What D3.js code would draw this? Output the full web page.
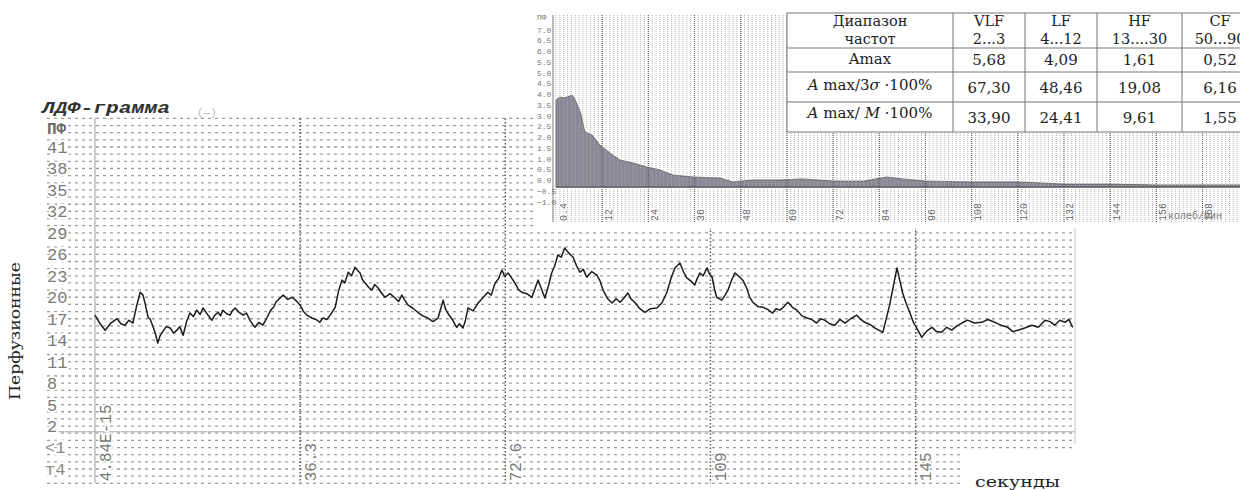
<!DOCTYPE html>
<html>
<head>
<meta charset="utf-8">
<script src="https://cdn.jsdelivr.net/npm/d3@7"></script>
<style>
  html, body { margin: 0; padding: 0; background: #fff; overflow: hidden; }
  svg { display: block; }
</style>
</head>
<body>
<script>
// ---- LDF trace (seconds, perfusion units) ----
const ldfTime = [0,0.9,1.8,2.8,3.9,4.6,5.3,6.0,6.7,7.4,
  8.0,8.5,8.9,9.4,9.8,10.3,10.7,11.1,11.5,11.9,
  12.6,13.3,13.9,14.5,15.0,15.6,16.2,16.8,17.4,18.0,
  18.6,19.1,19.9,20.7,21.2,21.8,22.2,22.6,23.3,23.9,
  24.3,24.8,25.5,26.2,26.8,27.4,27.9,28.3,29.0,29.7,
  30.4,31.1,31.6,32.0,32.6,33.3,34.1,34.9,35.6,36.3,
  36.9,37.5,38.4,39.3,39.8,40.3,41.0,41.6,42.5,43.1,
  43.7,44.2,44.8,45.4,46.0,46.4,46.9,47.3,47.8,48.4,
  49.0,49.5,50.1,50.7,51.3,52.2,53.1,53.7,54.3,54.8,
  55.4,56.2,57.1,58.0,58.9,59.8,60.7,61.6,62.0,62.4,
  63.2,64.0,64.5,65.1,65.5,66.0,66.9,67.8,68.6,69.5,
  70.1,70.8,71.4,72.0,72.5,73.1,73.7,74.3,74.9,75.5,
  76.4,77.3,78.4,79.6,80.2,80.8,81.3,81.9,82.5,83.1,
  83.8,84.6,85.2,85.8,86.4,87.0,87.9,88.8,89.3,89.9,
  90.7,91.5,92.2,92.9,93.6,94.3,94.9,95.5,96.4,97.3,
  98.3,99.4,100.3,101.2,101.9,102.6,103.5,104.1,104.7,105.4,
  106.1,106.5,107.0,107.6,108.3,108.7,109.2,109.6,110.0,110.9,
  111.4,112.0,112.6,113.2,114.1,114.7,115.3,115.8,116.4,117.3,
  118.2,119.0,119.9,120.5,121.2,121.9,122.6,123.4,124.2,125.1,
  126.0,126.8,127.7,128.4,129.1,130.0,130.9,131.8,132.7,133.7,
  134.8,135.5,136.2,137.1,138.0,138.7,139.4,140.6,141.9,142.9,
  143.5,144.2,144.8,145.4,146.3,147.2,148.1,148.9,149.8,150.7,
  151.6,152.5,153.4,154.4,155.6,156.9,158.0,159.2,160.3,161.5,
  162.4,163.3,164.5,165.8,166.9,168.1,169.0,169.8,170.7,171.6,
  172.3,173.0];
const ldfFlux = [17.5,16.3,15.4,16.4,17.0,16.3,16.1,16.8,16.4,18.9,
  20.7,20.3,19.0,17.2,16.9,15.8,14.9,13.6,14.6,15.1,
  15.9,15.7,15.0,15.4,15.9,14.7,16.6,17.8,17.3,18.2,
  17.6,18.5,17.6,16.8,17.5,17.9,17.4,18.2,17.7,17.5,
  18.1,18.5,17.9,17.5,17.8,16.8,16.2,15.8,16.5,16.1,
  17.1,18.2,18.6,19.3,19.8,20.3,19.7,20.0,19.5,18.9,
  18.0,17.5,17.1,16.8,16.5,17.1,16.9,17.5,18.6,20.9,
  22.4,22.0,23.5,23.0,24.2,23.8,23.4,22.5,22.0,21.4,
  21.0,21.8,21.3,20.6,20.0,20.5,19.9,19.4,20.3,19.6,
  18.9,18.5,17.9,17.4,17.1,16.6,17.1,19.6,18.4,17.8,
  16.9,15.8,16.3,15.7,16.6,18.5,18.1,19.2,19.9,20.7,
  20.3,22.0,22.6,23.8,22.9,23.4,22.7,22.0,21.1,20.7,
  20.5,20.0,22.4,19.9,21.5,23.4,24.3,25.9,25.6,26.9,
  26.2,25.6,24.4,23.5,23.9,22.8,23.6,23.1,22.4,21.0,
  19.8,19.2,19.8,19.3,19.9,20.6,19.7,19.3,18.4,17.9,
  18.4,18.5,19.2,20.7,22.6,24.1,24.8,23.6,22.7,22.3,
  21.7,22.5,23.4,23.0,24.1,23.3,22.8,21.2,20.0,19.6,
  20.2,21.0,22.3,23.4,22.8,22.3,21.3,20.1,19.3,18.7,
  18.6,18.3,17.8,18.4,18.2,18.7,19.3,18.6,18.2,17.4,
  17.1,16.9,16.4,17.0,16.8,16.3,16.1,16.9,16.4,17.0,
  17.5,16.9,16.5,16.2,15.7,15.4,15.1,18.9,24.1,20.6,
  19.2,17.8,16.5,15.7,14.4,15.3,15.8,15.2,15.1,15.8,
  15.4,16.0,16.4,16.8,16.4,16.5,16.9,16.5,16.1,15.8,
  15.2,15.4,15.7,16.1,15.8,16.8,16.6,16.1,16.8,16.5,
  16.9,15.8];

const fluxTicks = [41, 38, 35, 32, 29, 26, 23, 20, 17, 14, 11, 8, 5, 2];
const lowerTicks = [-1, -4];
const lowerLabels = ['<1', 'т4'];
const timeTicks = [0, 36.3, 72.6, 108.9, 145.2];
const timeLabels = ['4.84E-15', '36.3', '72.6', '109', '145'];

// ---- amplitude spectrum (inset) ----
const specFreq = [0,1.0,2.1,4.2,5.0,6.4,7.5,9.4,11.4,14,16.6,20,23.6,27,30.4,35.6,42.6,46,51,58,
  64,72,80,86,90,96,108,120,132,144,156,168,178];
const specAmp = [3.72,3.86,3.81,3.95,3.72,3.12,2.23,2.09,1.63,1.26,0.93,0.79,0.60,0.47,0.23,0.14,0.09,-0.09,0,0,
  0.05,-0.05,-0.05,0.14,0.05,-0.05,-0.09,-0.09,-0.19,-0.19,-0.23,-0.23,-0.23];
const specFreqTicks = [0.4, 12, 24, 36, 48, 60, 72, 84, 96, 108, 120, 132, 144, 156, 168];
const specAmpTicks = [7, 6.5, 6, 5.5, 5, 4.5, 4, 3.5, 3, 2.5, 2, 1.5, 1, 0.5, 0, -0.5, -1];

// ---- table ----
const bandNames = ['VLF', 'LF', 'HF', 'CF'];
const bandRanges = ['2...3', '4...12', '13....30', '50...90'];
const amaxVals = [5.68, 4.09, 1.61, 0.52];
const sigmaPct = [67.30, 48.46, 19.08, 6.16];
const meanPct = [33.90, 24.41, 9.61, 1.55];

const W = 1240, H = 490;
const MONO = "'Liberation Mono', 'DejaVu Sans Mono', monospace";
const SERIF = "'DejaVu Serif', 'Liberation Serif', serif";

const svg = d3.select('body').append('svg')
  .attr('width', W).attr('height', H)
  .style('background', '#fff');

// ===== main LDF chart =====
const x = d3.scaleLinear().domain([0, 173.4]).range([95, 1075]);
const y = d3.scaleLinear().domain([45, -6]).range([118.4, 483.3]);

const main = svg.append('g').attr('class', 'ldf');

// dotted rows, one per unit
main.append('g').selectAll('line')
  .data(d3.range(45, -7, -1))
  .join('line')
  .attr('x1', 47)
  .attr('x2', d => (y(d) > 450 ? 962 : 1075))
  .attr('y1', d => y(d)).attr('y2', d => y(d))
  .attr('stroke', '#9c9c9c')
  .attr('stroke-width', 1.3)
  .attr('stroke-dasharray', '3,4');

// solid divider under "2"
main.append('line')
  .attr('x1', 47).attr('x2', 1075)
  .attr('y1', y(1.2)).attr('y2', y(1.2))
  .attr('stroke', '#a8a8a8');

// left and right borders
main.append('line')
  .attr('x1', x(0)).attr('x2', x(0))
  .attr('y1', y(45)).attr('y2', y(-6))
  .attr('stroke', '#999');
main.append('line')
  .attr('x1', 1075).attr('x2', 1075)
  .attr('y1', 226).attr('y2', y(-0.5))
  .attr('stroke', '#c4c4c4');

// major time lines
main.append('g').selectAll('line')
  .data(timeTicks.slice(1))
  .join('line')
  .attr('x1', d => x(d)).attr('x2', d => x(d))
  .attr('y1', y(45)).attr('y2', y(-6))
  .attr('stroke', '#555')
  .attr('stroke-width', 1.4)
  .attr('stroke-dasharray', '1.5,2');

// y axis
const yAxis = d3.axisLeft(y).tickValues(fluxTicks).tickSize(0).tickFormat(d3.format('d'));
main.append('g')
  .attr('transform', `translate(${x(0)},0)`)
  .call(yAxis)
  .call(g => g.select('.domain').remove())
  .selectAll('text')
  .attr('x', 47 - x(0))
  .attr('text-anchor', 'start')
  .attr('font-family', MONO)
  .attr('font-size', 17)
  .attr('fill', '#7a7a7a')
  .attr('stroke', '#fff').attr('stroke-width', 4)
  .attr('paint-order', 'stroke');

main.append('g').selectAll('text')
  .data(lowerTicks)
  .join('text')
  .attr('x', 45).attr('y', d => y(d)).attr('dy', '0.35em')
  .attr('font-family', MONO).attr('font-size', 17)
  .attr('fill', '#8a8a8a')
  .attr('stroke', '#fff').attr('stroke-width', 4).attr('paint-order', 'stroke')
  .text((d, i) => lowerLabels[i]);

main.append('text')
  .attr('x', 47).attr('y', y(43.6)).attr('dy', '0.35em')
  .attr('font-family', MONO).attr('font-size', 16).attr('font-weight', 'bold')
  .attr('fill', '#6a6a6a')
  .attr('stroke', '#fff').attr('stroke-width', 4).attr('paint-order', 'stroke')
  .text('ПФ');

// x axis labels, rotated
const xAxis = d3.axisBottom(x).tickValues(timeTicks).tickSize(0)
  .tickFormat((d, i) => timeLabels[i]);
main.append('g')
  .attr('transform', `translate(0,${y(-6)})`)
  .call(xAxis)
  .call(g => g.select('.domain').remove())
  .selectAll('text')
  .attr('transform', 'rotate(-90)')
  .attr('text-anchor', 'start')
  .attr('x', 2).attr('y', 15).attr('dy', null)
  .attr('font-family', MONO)
  .attr('font-size', 16)
  .attr('fill', '#777')
  .attr('stroke', '#fff').attr('stroke-width', 3).attr('paint-order', 'stroke');

// the trace
const trace = d3.line()
  .x(d => x(d[0]))
  .y(d => y(d[1]));
main.append('path')
  .datum(d3.zip(ldfTime, ldfFlux))
  .attr('d', trace)
  .attr('fill', 'none')
  .attr('stroke', '#1c1c1c')
  .attr('stroke-width', 1.5)
  .attr('stroke-linejoin', 'round');

// title
main.append('text')
  .attr('x', 42).attr('y', 113)
  .attr('font-family', MONO).attr('font-size', 16)
  .attr('font-weight', 'bold').attr('font-style', 'italic')
  .attr('fill', '#333')
  .attr('textLength', 128).attr('lengthAdjust', 'spacingAndGlyphs')
  .text('ЛДФ-грамма');
main.append('text')
  .attr('x', 197).attr('y', 116)
  .attr('font-family', MONO).attr('font-size', 11)
  .attr('fill', '#bbb')
  .text('(—)');

// axis captions
svg.append('text')
  .attr('transform', 'translate(20,331) rotate(-90)')
  .attr('text-anchor', 'middle')
  .attr('font-family', SERIF).attr('font-size', 15)
  .attr('fill', '#222')
  .attr('textLength', 138).attr('lengthAdjust', 'spacingAndGlyphs')
  .text('Перфузионные');
svg.append('text')
  .attr('x', 975).attr('y', 487)
  .attr('font-family', SERIF).attr('font-size', 15)
  .attr('fill', '#222')
  .attr('textLength', 85).attr('lengthAdjust', 'spacingAndGlyphs')
  .text('секунды');

// ===== inset: spectrum =====
const inset = svg.append('g').attr('class', 'spectrum');
inset.append('rect')
  .attr('x', 535).attr('y', 6).attr('width', W - 535).attr('height', 222)
  .attr('fill', '#fff');

const fx = d3.scaleLinear().domain([0, 178]).range([556, 1241]);
const fy = d3.scaleLinear().domain([0, 7]).range([180, 29.5]);

const area = d3.area()
  .x(d => fx(d[0]))
  .y0(fy(-0.33))
  .y1(d => fy(d[1]));
inset.append('path')
  .datum(d3.zip(specFreq, specAmp))
  .attr('d', area)
  .attr('fill', '#8a8796')
  .attr('stroke', '#555')
  .attr('stroke-width', 0.8);

// minor and major frequency lines
inset.append('g').selectAll('line')
  .data(d3.range(0, 179, 1))
  .join('line')
  .attr('x1', d => fx(d)).attr('x2', d => fx(d))
  .attr('y1', 15).attr('y2', 222)
  .attr('stroke', '#a9a9a9')
  .attr('stroke-width', 0.9)
  .attr('stroke-dasharray', '1,1');
inset.append('g').selectAll('line')
  .data(specFreqTicks.slice(1))
  .join('line')
  .attr('x1', d => fx(d)).attr('x2', d => fx(d))
  .attr('y1', 15).attr('y2', 222)
  .attr('stroke', '#666')
  .attr('stroke-width', 1.2)
  .attr('stroke-dasharray', '1,1');
inset.append('line')
  .attr('x1', fx(0)).attr('x2', W)
  .attr('y1', fy(-0.33)).attr('y2', fy(-0.33))
  .attr('stroke', '#666').attr('stroke-width', 1.5);
inset.append('line')
  .attr('x1', 553).attr('x2', 553)
  .attr('y1', 15).attr('y2', 222)
  .attr('stroke', '#777');

// spectrum amplitude labels
const fyAxis = d3.axisLeft(fy).tickValues(specAmpTicks).tickSize(0).tickFormat(d3.format('.1f'));
inset.append('g')
  .attr('transform', 'translate(537,0)')
  .call(fyAxis)
  .call(g => g.select('.domain').remove())
  .selectAll('text')
  .attr('x', 0).attr('text-anchor', 'start')
  .attr('font-family', MONO).attr('font-size', 8)
  .attr('fill', '#777');
inset.append('text')
  .attr('x', 537).attr('y', 20)
  .attr('font-family', MONO).attr('font-size', 8)
  .attr('fill', '#777').text('ПФ');

// spectrum frequency labels
const fxAxis = d3.axisBottom(fx).tickValues(specFreqTicks).tickSize(0).tickFormat(d => String(d));
inset.append('g')
  .attr('transform', 'translate(0,222)')
  .call(fxAxis)
  .call(g => g.select('.domain').remove())
  .selectAll('text')
  .attr('transform', 'rotate(-90)')
  .attr('text-anchor', 'start')
  .attr('x', 1).attr('y', 9).attr('dy', null)
  .attr('font-family', MONO).attr('font-size', 10)
  .attr('fill', '#666')
  .attr('stroke', '#fff').attr('stroke-width', 2).attr('paint-order', 'stroke');
inset.append('text')
  .attr('x', 1168).attr('y', 219)
  .attr('font-family', MONO).attr('font-size', 10)
  .attr('fill', '#777')
  .text('колеб/мин');

// ===== table =====
const colEdges = [787, 953, 1025, 1097, 1182, 1258];
const rowEdges = [13, 48, 72, 102, 132];
const table = svg.append('g').attr('class', 'table');
table.append('rect')
  .attr('x', colEdges[0]).attr('y', rowEdges[0])
  .attr('width', colEdges[5] - colEdges[0]).attr('height', rowEdges[4] - rowEdges[0])
  .attr('fill', '#fff').attr('stroke', '#777');
table.append('g').selectAll('line')
  .data(colEdges.slice(1, 5))
  .join('line')
  .attr('x1', d => d).attr('x2', d => d)
  .attr('y1', rowEdges[0]).attr('y2', rowEdges[4])
  .attr('stroke', '#777');
table.append('g').selectAll('line')
  .data(rowEdges.slice(1, 4))
  .join('line')
  .attr('x1', colEdges[0]).attr('x2', colEdges[5])
  .attr('y1', d => d).attr('y2', d => d)
  .attr('stroke', '#777');

const colMid = i => (colEdges[i] + colEdges[i + 1]) / 2;
const cell = (cx, cy, size = 15) => table.append('text')
  .attr('x', cx).attr('y', cy)
  .attr('text-anchor', 'middle')
  .attr('font-family', SERIF).attr('font-size', size)
  .attr('fill', '#222');

cell(colMid(0), 26, 14.5).text('Диапазон');
cell(colMid(0), 44, 14.5).text('частот');
bandNames.forEach((b, i) => {
  cell(colMid(i + 1), 26, 14.5).text(b);
  cell(colMid(i + 1), 44, 14.5).text(bandRanges[i]);
});

const fmt = v => d3.format('.2f')(v).replace('.', ',');
cell(colMid(0), 64).text('Amax');
const r3 = cell(colMid(0), 90);
r3.append('tspan').attr('font-style', 'italic').text('A');
r3.append('tspan').text(' max/3');
r3.append('tspan').attr('font-style', 'italic').text('σ');
r3.append('tspan').text(' ·100%');
const r4 = cell(colMid(0), 118);
r4.append('tspan').attr('font-style', 'italic').text('A');
r4.append('tspan').text(' max/ ');
r4.append('tspan').attr('font-style', 'italic').text('M');
r4.append('tspan').text(' ·100%');

[amaxVals, sigmaPct, meanPct].forEach((row, r) => {
  const base = [65, 93, 123][r];
  row.forEach((v, i) => cell(colMid(i + 1), base).text(fmt(v)));
});
</script>
</body>
</html>
